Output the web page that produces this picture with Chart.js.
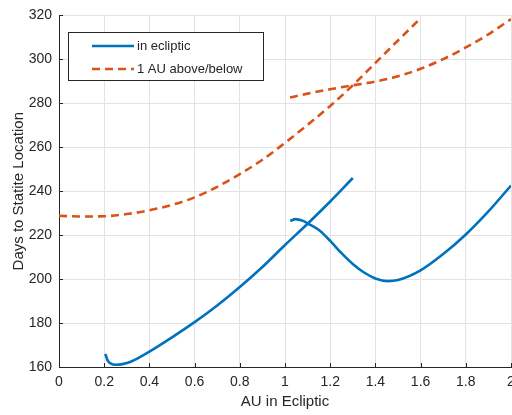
<!DOCTYPE html>
<html>
<head>
<meta charset="utf-8">
<script src="https://cdn.jsdelivr.net/npm/chart.js@4"></script>
<style>
  html, body { margin: 0; padding: 0; background: #fff; }
  #wrap { width: 512px; height: 415px; }
</style>
</head>
<body>
<div id="wrap"><canvas id="statite" width="512" height="415"></canvas></div>
<script>
// in ecliptic, first branch
const eclipticAx = [0.205, 0.215, 0.23, 0.25, 0.28, 0.32, 0.4, 0.5, 0.6, 0.7, 0.8, 0.9, 1.0, 1.1, 1.2, 1.3];
const eclipticAy = [166, 163, 161.5, 161, 161.3, 162.5, 167, 173.5, 180.4, 188, 196.4, 205.5, 215.5, 225.2, 235.3, 246];
// in ecliptic, second branch
const eclipticBx = [1.023, 1.046, 1.08, 1.11, 1.15, 1.2, 1.25, 1.3, 1.35, 1.4, 1.454, 1.5, 1.6, 1.7, 1.8, 1.9, 2.0];
const eclipticBy = [226.4, 227.3, 226.5, 224.8, 222.3, 217.4, 211.8, 206.9, 203, 200.3, 199.1, 199.6, 204, 211.4, 220.3, 230.8, 242.6];
// 1 AU above/below, first branch
const offsetAx = [0, 0.1, 0.2, 0.3, 0.4, 0.5, 0.6, 0.7, 0.8, 0.9, 1.0, 1.1, 1.2, 1.3, 1.4, 1.5, 1.587];
const offsetAy = [228.8, 228.5, 228.6, 229.6, 231.3, 233.8, 237.2, 242, 247.8, 254.3, 262, 270.2, 278.8, 288.2, 298.4, 308.6, 317.4];
// 1 AU above/below, second branch
const offsetBx = [1.022, 1.1, 1.2, 1.3, 1.4, 1.5, 1.6, 1.7, 1.8, 1.9, 2.0];
const offsetBy = [282.6, 284.4, 286.4, 288.2, 289.9, 292.3, 295.7, 300.1, 305.4, 311.4, 318.3];

const seriesNames = ["in ecliptic", "1 AU above/below"];
const xTickStep = 0.2;
const yTickStep = 20;

const BLUE = "#0072BD";
const RED = "#D95319";
const INK = "#262626";
const FONT = "'Liberation Sans', Arial, sans-serif";

function pts(xs, ys) {
  return xs.map((x, i) => ({ x: x, y: ys[i] }));
}

function lineSet(label, xs, ys, color, dashed) {
  return {
    label: label,
    data: pts(xs, ys),
    showLine: true,
    borderColor: color,
    backgroundColor: color,
    borderWidth: 2.6,
    borderDash: dashed ? [8, 5] : [],
    pointRadius: 0,
    cubicInterpolationMode: "monotone",
    fill: false
  };
}

// legend box inside the plot + inward tick marks
const extras = {
  id: "extras",
  afterDraw(chart) {
    const ctx = chart.ctx;
    const xs = chart.scales.x, ys = chart.scales.y;
    const area = chart.chartArea;
    ctx.save();
    ctx.strokeStyle = INK;
    ctx.lineWidth = 1;
    ctx.beginPath();
    xs.ticks.forEach(t => {
      const px = Math.round(xs.getPixelForValue(t.value)) + 0.5;
      ctx.moveTo(px, area.bottom);
      ctx.lineTo(px, area.bottom - 4);
    });
    ys.ticks.forEach(t => {
      const py = Math.round(ys.getPixelForValue(t.value)) + 0.5;
      ctx.moveTo(area.left, py);
      ctx.lineTo(area.left + 4, py);
    });
    ctx.stroke();

    // legend
    const bx = 68.5, by = 32.5, bw = 195, bh = 48;
    ctx.fillStyle = "#fff";
    ctx.fillRect(bx, by, bw, bh);
    ctx.strokeStyle = INK;
    ctx.strokeRect(bx, by, bw, bh);
    const rows = [
      { ds: chart.data.datasets[0], y: 46 },
      { ds: chart.data.datasets[2], y: 69 }
    ];
    ctx.font = "13px " + FONT;
    ctx.textBaseline = "middle";
    rows.forEach(r => {
      ctx.strokeStyle = r.ds.borderColor;
      ctx.lineWidth = r.ds.borderWidth;
      ctx.setLineDash(r.ds.borderDash);
      ctx.beginPath();
      ctx.moveTo(92, r.y);
      ctx.lineTo(134, r.y);
      ctx.stroke();
      ctx.setLineDash([]);
      ctx.fillStyle = INK;
      ctx.fillText(r.ds.label, 137, r.y);
    });
    ctx.restore();
  }
};

new Chart(document.getElementById("statite"), {
  type: "scatter",
  data: {
    datasets: [
      lineSet(seriesNames[0], eclipticAx, eclipticAy, BLUE, false),
      lineSet(seriesNames[0], eclipticBx, eclipticBy, BLUE, false),
      lineSet(seriesNames[1], offsetAx, offsetAy, RED, true),
      lineSet(seriesNames[1], offsetBx, offsetBy, RED, true)
    ]
  },
  options: {
    responsive: false,
    animation: false,
    layout: { padding: { top: 11, right: 1, left: 0, bottom: 0 } },
    plugins: {
      legend: { display: false },
      tooltip: { enabled: false }
    },
    scales: {
      x: {
        type: "linear",
        min: 0,
        max: 2,
        afterFit(scale) {
          scale.height = 48;
          // let the last label run off the edge instead of shrinking the plot
          scale.paddingLeft = 0;
          scale.paddingRight = 0;
        },
        ticks: {
          stepSize: xTickStep,
          padding: 7,
          color: INK,
          maxRotation: 0,
          callback: v => String(Math.round(v * 10) / 10),
          font: { family: FONT, size: 14 }
        },
        grid: { color: "#e3e3e3", drawTicks: false },
        border: { color: INK, width: 1 },
        title: {
          display: true,
          text: "AU in Ecliptic",
          color: INK,
          padding: { top: 2, bottom: 4 },
          font: { family: FONT, size: 15 }
        }
      },
      y: {
        min: 160,
        max: 320,
        afterFit(scale) { scale.width = 59; },
        ticks: {
          stepSize: yTickStep,
          padding: 7,
          color: INK,
          font: { family: FONT, size: 14 }
        },
        grid: { color: "#e3e3e3", drawTicks: false },
        border: { color: INK, width: 1 },
        title: {
          display: true,
          text: "Days to Statite Location",
          color: INK,
          padding: { top: 10, bottom: 2 },
          font: { family: FONT, size: 15 }
        }
      }
    }
  },
  plugins: [extras]
});
</script>
</body>
</html>
